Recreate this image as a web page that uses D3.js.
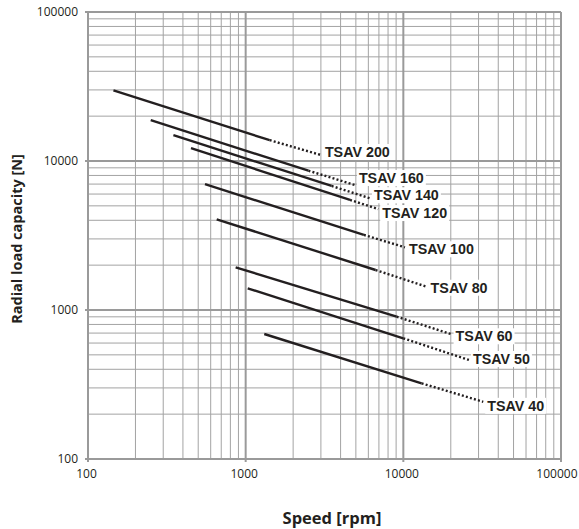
<!DOCTYPE html>
<html>
<head>
<meta charset="utf-8">
<script src="https://cdn.jsdelivr.net/npm/d3@7"></script>
<style>
  html, body { margin: 0; padding: 0; background: #fff; }
  svg { display: block; }
</style>
</head>
<body>
<svg id="chart" width="579" height="529"></svg>
<script>
// ---- data ----
const seriesNames   = ["TSAV 200", "TSAV 160", "TSAV 140", "TSAV 120", "TSAV 100", "TSAV 80", "TSAV 60", "TSAV 50", "TSAV 40"];
const startSpeed    = [145,   250,   348,   450,   552,  655,  864,  1030, 1312];
const startLoad     = [29800, 18800, 14900, 12200, 7000, 4060, 1935, 1398, 690];
const ratedSpeed    = [1420,  2500,  3510,  4590,  5620, 6670, 9070, 9990, 13060];
const ratedLoad     = [13800, 8610,  6800,  5480,  3190, 1855, 902,  646,  322];
const maxSpeed      = [3000,  4930,  6140,  6930,  10240, 14050, 20240, 26060, 32120];
const maxLoad       = [10970, 6900,  5620,  4760,  2635, 1433, 687,  462,  242];
const xTickValues   = [100, 1000, 10000, 100000];
const yTickValues   = [100, 1000, 10000, 100000];
const xTitle = "Speed [rpm]";
const yTitle = "Radial load capacity [N]";

// ---- layout ----
const svg = d3.select("#chart");
const L = 88, R = 561, T = 12, B = 459;
const x = d3.scaleLog().domain([100, 100000]).range([L, R]);
const y = d3.scaleLog().domain([100, 100000]).range([B, T]);
const labelNudge = [-3, -7, -3, 4, 2, 1, 2, -1, 4];

const minorColor = "#a3a3a3", majorColor = "#9a9a9a";
const FONT = "'Open Sans', 'Noto Sans', sans-serif";
const LABEL_FONT = "'Liberation Sans', Arial, sans-serif";
const INK = "#231f20";

// grid values
const gridVals = [];
[100, 1000, 10000].forEach(d => { for (let k = 2; k <= 9; k++) gridVals.push(d * k); });

const grid = svg.append("g");
grid.selectAll("line.vx").data(gridVals).join("line")
  .attr("x1", d => x(d)).attr("x2", d => x(d)).attr("y1", T).attr("y2", B)
  .attr("stroke", minorColor).attr("stroke-width", 1);
grid.selectAll("line.hy").data(gridVals).join("line")
  .attr("y1", d => y(d)).attr("y2", d => y(d)).attr("x1", L).attr("x2", R)
  .attr("stroke", minorColor).attr("stroke-width", 1);
grid.selectAll("line.mx").data(xTickValues).join("line")
  .attr("x1", d => x(d)).attr("x2", d => x(d)).attr("y1", T).attr("y2", B)
  .attr("stroke", majorColor).attr("stroke-width", 2);
grid.selectAll("line.my").data(yTickValues).join("line")
  .attr("y1", d => y(d)).attr("y2", d => y(d)).attr("x1", L - 3).attr("x2", R)
  .attr("stroke", majorColor).attr("stroke-width", 2);
grid.selectAll("line.tx").data(xTickValues).join("line")
  .attr("x1", d => x(d)).attr("x2", d => x(d)).attr("y1", B).attr("y2", B + 3)
  .attr("stroke", majorColor).attr("stroke-width", 2);

// axes labels via d3 axes (domain/ticks hidden, labels kept)
const xAxis = d3.axisBottom(x).tickValues(xTickValues).tickFormat(d3.format("d")).tickSize(0).tickPadding(10);
const yAxis = d3.axisLeft(y).tickValues(yTickValues).tickFormat(d3.format("d")).tickSize(0).tickPadding(10);
const gx = svg.append("g").attr("transform", `translate(0,${B})`).call(xAxis);
const gy = svg.append("g").attr("transform", `translate(${L},0)`).call(yAxis);
[gx, gy].forEach(g => {
  g.select(".domain").remove();
  g.selectAll("text").attr("font-family", FONT).attr("font-size", 12).attr("fill", INK);
});
gx.selectAll("text").attr("dx", -2);
gx.selectAll("text").filter(d => d === 100000)
  .attr("text-anchor", "end").attr("dx", 0).attr("x", 577 - R);

// series lines
const lines = svg.append("g");
const idx = d3.range(seriesNames.length);
lines.selectAll("line.solid").data(idx).join("line")
  .attr("x1", i => x(startSpeed[i])).attr("y1", i => y(startLoad[i]))
  .attr("x2", i => x(ratedSpeed[i])).attr("y2", i => y(ratedLoad[i]))
  .attr("stroke", INK).attr("stroke-width", 2.4);
lines.selectAll("line.dot").data(idx).join("line")
  .attr("x1", i => x(ratedSpeed[i])).attr("y1", i => y(ratedLoad[i]))
  .attr("x2", i => x(maxSpeed[i])).attr("y2", i => y(maxLoad[i]))
  .attr("stroke", INK).attr("stroke-width", 2.4)
  .attr("stroke-dasharray", "2,2.2");

// labels with white boxes
const labels = svg.append("g");
idx.forEach(i => {
  const g = labels.append("g");
  const cy = y(maxLoad[i]) + labelNudge[i];
  const t = g.append("text")
    .attr("x", x(maxSpeed[i]) + 4)
    .attr("y", cy)
    .attr("dominant-baseline", "central")
    .attr("font-family", LABEL_FONT).attr("font-weight", "bold").attr("font-size", 14.3)
    .attr("fill", INK)
    .text(seriesNames[i]);
  const bb = t.node().getBBox();
  g.insert("rect", "text")
    .attr("x", bb.x - 2).attr("y", cy - 8).attr("width", bb.width + 4).attr("height", 16)
    .attr("fill", "#fff");
});

// titles
svg.append("text")
  .attr("x", 332).attr("y", 517)
  .attr("text-anchor", "middle").attr("dominant-baseline", "central")
  .attr("font-family", FONT).attr("font-weight", "bold").attr("font-size", 16.5)
  .attr("fill", INK).text(xTitle);
svg.append("text")
  .attr("transform", `translate(16,239) rotate(-90)`)
  .attr("text-anchor", "middle").attr("dominant-baseline", "central")
  .attr("font-family", FONT).attr("font-weight", "bold").attr("font-size", 14.5)
  .attr("fill", INK).text(yTitle);
</script>
</body>
</html>
